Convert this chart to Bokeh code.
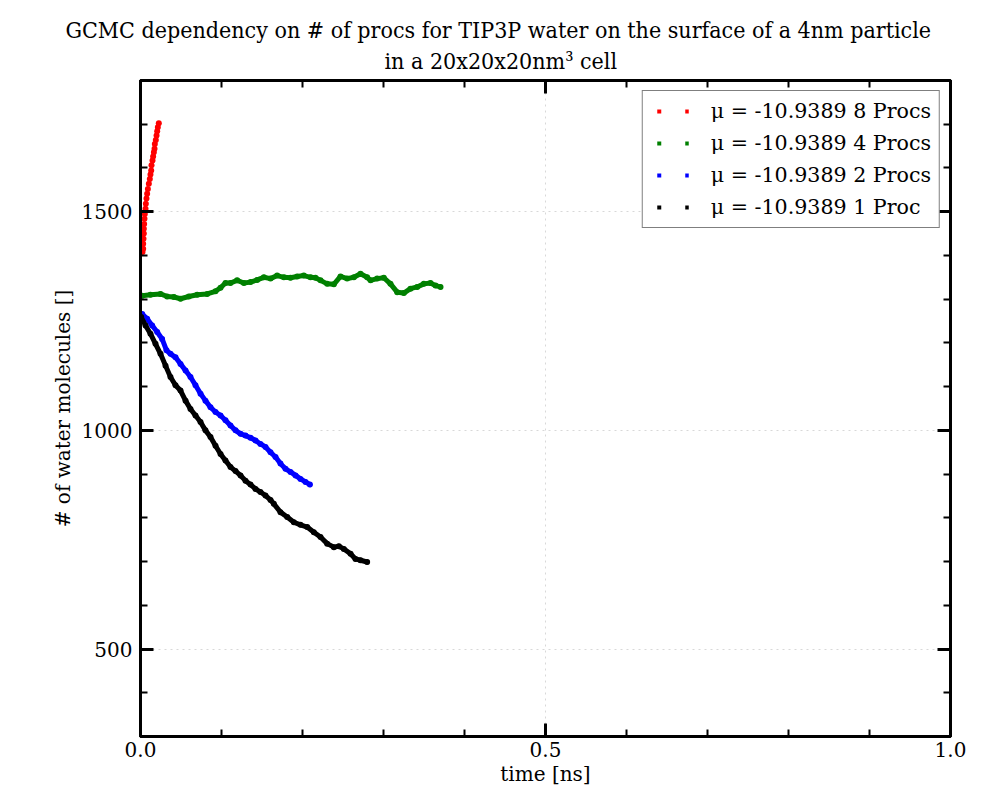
import math
from bokeh.plotting import figure
from bokeh.models import Range1d, SingleIntervalTicker, LinearAxis, Legend, LegendItem, Title, ColumnDataSource
from bokeh.embed import file_html
from bokeh.resources import INLINE

# ---- data ----
red_t = [0.0025, 0.0033, 0.0033, 0.0037, 0.0041, 0.0041, 0.0045, 0.0049, 0.0053, 0.0062, 0.0066, 0.0074,
         0.0082, 0.0091, 0.0103, 0.0115, 0.0123, 0.0132, 0.0136, 0.0148, 0.0156, 0.0165, 0.0173, 0.0177,
         0.0189, 0.0198, 0.0206, 0.0214, 0.0226]
red_n = [1408, 1415, 1427, 1438, 1450, 1461, 1472, 1484, 1495, 1507, 1518, 1530, 1541, 1552, 1564, 1575,
         1585, 1594, 1606, 1617, 1626, 1636, 1644, 1655, 1664, 1674, 1684, 1693, 1702]

green_t = [0.0021, 0.0123, 0.0247, 0.0329, 0.0412, 0.0494, 0.0597, 0.0700, 0.0823, 0.0926, 0.0988, 0.1049,
           0.1111, 0.1193, 0.1276, 0.1358, 0.1440, 0.1523, 0.1605, 0.1687, 0.1770, 0.1852, 0.1934, 0.2016,
           0.2099, 0.2160, 0.2222, 0.2305, 0.2387, 0.2469, 0.2551, 0.2634, 0.2716, 0.2798, 0.2840, 0.2922,
           0.3004, 0.3086, 0.3169, 0.3251, 0.3333, 0.3416, 0.3498, 0.3580, 0.3642, 0.3704]
green_n = [1308, 1310, 1312, 1306, 1305, 1301, 1306, 1310, 1312, 1318, 1326, 1337, 1337, 1343, 1337, 1339,
           1344, 1350, 1347, 1354, 1350, 1349, 1352, 1354, 1350, 1349, 1343, 1335, 1334, 1352, 1347, 1350,
           1358, 1350, 1343, 1347, 1349, 1335, 1316, 1314, 1324, 1328, 1335, 1337, 1331, 1328]

blue_t = [0.0021, 0.0082, 0.0144, 0.0206, 0.0267, 0.0321, 0.0370, 0.0432, 0.0494, 0.0556, 0.0617, 0.0679,
          0.0741, 0.0802, 0.0864, 0.0926, 0.0988, 0.1049, 0.1111, 0.1173, 0.1235, 0.1296, 0.1358, 0.1420,
          0.1481, 0.1543, 0.1605, 0.1667, 0.1728, 0.1790, 0.1852, 0.1914, 0.1975, 0.2037, 0.2091]
blue_n = [1266, 1255, 1240, 1225, 1209, 1183, 1175, 1167, 1152, 1137, 1122, 1103, 1084, 1068, 1053, 1042,
          1034, 1023, 1011, 1000, 992, 988, 983, 977, 969, 962, 950, 939, 924, 912, 905, 897, 889, 882, 876]

black_t = [0.0008, 0.0062, 0.0123, 0.0185, 0.0247, 0.0309, 0.0370, 0.0432, 0.0494, 0.0556, 0.0617, 0.0679,
           0.0741, 0.0802, 0.0864, 0.0926, 0.0988, 0.1049, 0.1111, 0.1173, 0.1235, 0.1296, 0.1358, 0.1420,
           0.1481, 0.1543, 0.1605, 0.1646, 0.1728, 0.1811, 0.1893, 0.1975, 0.2058, 0.2140, 0.2222, 0.2305,
           0.2387, 0.2449, 0.2510, 0.2593, 0.2654, 0.2716, 0.2798]
black_n = [1259, 1240, 1221, 1198, 1175, 1148, 1122, 1103, 1091, 1068, 1049, 1034, 1019, 1000, 985, 965,
           946, 931, 916, 907, 897, 885, 876, 866, 859, 851, 841, 832, 813, 802, 790, 784, 779, 767, 756,
           741, 733, 735, 729, 718, 706, 703, 699]

labels = ["\u03bc = -10.9389 8 Procs", "\u03bc = -10.9389 4 Procs",
          "\u03bc = -10.9389 2 Procs", "\u03bc = -10.9389 1 Proc"]
colors = ["#ff0000", "#008000", "#0000ff", "#000000"]

title1 = "GCMC dependency on # of procs for TIP3P water on the surface of a 4nm particle"
title2 = "in a 20x20x20nm\u00b3  cell"

SERIF = "DejaVu Serif"
FS = "20px"
TFONT = "DejaVu Serif Condensed"
TFS = "23px"

p = figure(width=992, height=792, output_backend="svg", toolbar_location=None,
           x_range=Range1d(0, 1.0), y_range=Range1d(300, 1800),
           x_axis_label="time [ns]", y_axis_label="# of water molecules []",
           min_border_left=140, min_border_right=42, min_border_top=80, min_border_bottom=56)
p.background_fill_color = "white"
p.border_fill_color = "white"
p.outline_line_color = "black"
p.outline_line_width = 3

xt = SingleIntervalTicker(interval=0.5, num_minor_ticks=5)
yt = SingleIntervalTicker(interval=500, num_minor_ticks=5)


def style_axis(ax, show_labels=True):
    ax.axis_line_width = 3
    ax.axis_line_color = "black"
    ax.major_tick_in = 13
    ax.major_tick_out = 0
    ax.minor_tick_in = 7
    ax.minor_tick_out = 0
    ax.major_tick_line_width = 3
    ax.minor_tick_line_width = 2
    ax.major_tick_line_color = "black"
    ax.minor_tick_line_color = "black"
    if show_labels:
        ax.major_label_text_font = SERIF
        ax.major_label_text_font_size = FS
        ax.major_label_text_color = "black"
        ax.axis_label_text_font = SERIF
        ax.axis_label_text_font_size = FS
        ax.axis_label_text_font_style = "normal"
        ax.axis_label_text_color = "black"
    else:
        ax.major_label_text_font_size = "2px"
        ax.major_label_text_color = None
        ax.major_label_standoff = 0


p.xaxis.ticker = xt
p.yaxis.ticker = yt
p.xaxis.major_label_overrides = {0: "0.0", 0.5: "0.5", 1: "1.0"}
for ax in p.xaxis + p.yaxis:
    style_axis(ax)
p.xaxis.major_label_standoff = 5
p.xaxis.axis_label_standoff = 2
p.yaxis.major_label_standoff = 8
p.yaxis.axis_label_standoff = 4

# top / right axes: ticks only (added before titles so they sit next to the frame)
top_ax = LinearAxis(ticker=SingleIntervalTicker(interval=0.5, num_minor_ticks=5))
style_axis(top_ax, False)
p.add_layout(top_ax, "above")
right_ax = LinearAxis(ticker=SingleIntervalTicker(interval=500, num_minor_ticks=5))
style_axis(right_ax, False)
p.add_layout(right_ax, "right")

# titles (line 2 closest to plot, added first); placed so they are centred on the page
p.add_layout(Title(text=title2, align="left", text_font=TFONT, text_font_size=TFS, offset=244,
                   vertical_align="top", text_font_style="normal", text_color="black", standoff=10), "above")
p.add_layout(Title(text=title1, align="left", text_font=TFONT, text_font_size=TFS, offset=-75,
                   vertical_align="bottom", text_font_style="normal", text_color="black", standoff=0), "above")

p.xgrid.ticker = xt
p.ygrid.ticker = yt
for g in (p.xgrid, p.ygrid):
    g.grid_line_color = "#d8d8d8"
    g.grid_line_dash = "2 4"
    g.grid_line_width = 1

# data marks
p.scatter(red_t, red_n, size=6, color=colors[0], line_width=0)
for t, n, c in ((green_t, green_n, colors[1]), (blue_t, blue_n, colors[2]), (black_t, black_n, colors[3])):
    p.line(t, n, line_width=5, color=c, line_join="round", line_cap="round")
    p.scatter(t, n, size=6, color=c, line_width=0)

# legend glyphs: two dots per entry (matplotlib numpoints=2 look), drawn by a dashed line
items = []
for lab, c in zip(labels, colors):
    src = ColumnDataSource(data=dict(x=[math.nan], y=[math.nan]))
    r = p.line("x", "y", source=src, line_width=4, color=c, line_dash="0 6 4 18", line_cap="butt")
    items.append(LegendItem(label=lab, renderers=[r]))

leg = Legend(items=items, location="top_right")
leg.margin = 10
leg.padding = 8
leg.spacing = 8
leg.glyph_width = 38
leg.glyph_height = 18
leg.label_height = 18
leg.label_standoff = 22
leg.label_text_font = SERIF
leg.label_text_font_size = "20.6px"
leg.label_text_color = "black"
leg.border_line_color = "black"
leg.border_line_width = 1
leg.background_fill_color = "white"
leg.background_fill_alpha = 1
p.add_layout(leg, "center")

open("out.html", "w").write(file_html(p, INLINE))
